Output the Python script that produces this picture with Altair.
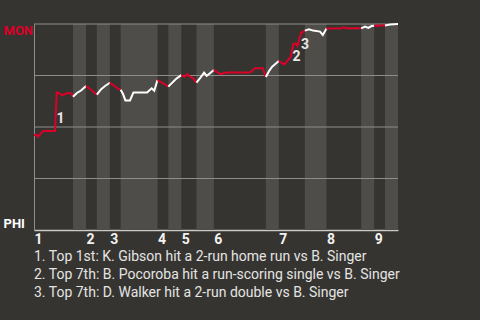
import altair as alt
import pandas as pd

# ---- data ----
inning_start = [0, 24, 35, 57, 68, 83, 113, 135, 157]
inning_label = ["1", "2", "3", "4", "5", "6", "7", "8", "9"]
bot_start = [18, 29, 40, 62, 75, 107, 125, 151, 162]
bot_end = [24, 35, 57, 68, 83, 113, 135, 157, 168]

progress = [0, 1.4, 1.8, 4.2, 9.7, 10.5, 11.1, 13.1, 15.1, 17.2, 18,
            19.8, 21.7, 24,
            26.8, 29,
            31, 32.8, 35,
            37.4, 38.8, 40,
            41.1, 42.2, 44.3, 45.9, 52.2, 54.3, 55.5, 57,
            59.8, 62,
            63.7, 65.5, 68,
            69.5, 70.8, 72, 73.5, 75,
            76.9, 78.5, 79.7, 81.2, 83,
            84.3, 86.2, 87.4, 88.9, 99.7, 102, 105.6, 107,
            108.5, 109.8, 113,
            115.5, 118.5, 119.7, 120.9, 121.6, 123.2, 125,
            126.9, 128.8, 132, 133.3, 135,
            142, 142.8, 144.3, 151,
            152.8, 154.3, 155.8, 157,
            162,
            164.3, 168]
mon_wp = [0.461, 0.461, 0.453, 0.481, 0.481, 0.667, 0.667, 0.654, 0.664, 0.664, 0.647,
          0.665, 0.677, 0.699,
          0.677, 0.657,
          0.684, 0.699, 0.715,
          0.697, 0.686, 0.681,
          0.660, 0.629, 0.629, 0.668, 0.668, 0.688, 0.676, 0.728,
          0.711, 0.696,
          0.714, 0.733, 0.752,
          0.744, 0.757, 0.744, 0.736, 0.715,
          0.741, 0.764, 0.748, 0.761, 0.777,
          0.768, 0.757, 0.761, 0.764, 0.764, 0.785, 0.785, 0.743,
          0.772, 0.791, 0.820,
          0.804, 0.840, 0.903, 0.905, 0.893, 0.956, 0.968,
          0.974, 0.968, 0.963, 0.947, 0.978,
          0.979, 0.984, 0.979, 0.979,
          0.987, 0.981, 0.990, 0.991,
          0.993,
          0.998, 1.0]

grid_values = [0.25, 0.5, 0.75, 1.0]

ann_x = [12.2, 121.2, 125.1]
ann_y = [0.537, 0.841, 0.898]
ann_label = ["1", "2", "3"]

footnotes = [
    "1. Top 1st: K. Gibson hit a 2-run home run vs B. Singer",
    "2. Top 7th: B. Pocoroba hit a run-scoring single vs B. Singer",
    "3. Top 7th: D. Walker hit a 2-run double vs B. Singer",
]

# ---- build tables ----
halves = []
for i in range(9):
    halves.append((inning_start[i], bot_start[i], "top"))
    halves.append((bot_start[i], bot_end[i], "bottom"))

rows = []
for k, (a, b, kind) in enumerate(halves):
    for x, p in zip(progress, mon_wp):
        if a - 1e-9 <= x <= b + 1e-9:
            rows.append({"x": x, "p": p, "seg": k, "kind": kind})
line_df = pd.DataFrame(rows)
bands_df = pd.DataFrame({"x": bot_start, "x2": bot_end})
grid_df = pd.DataFrame({"g": grid_values})
ann_df = pd.DataFrame({"x": ann_x, "y": ann_y, "t": ann_label})

RED = "#dc0028"
FONT = "Roboto"
BG = "#363430"

label_map = "{" + ",".join(f"'{v}':'{l}'" for v, l in zip(inning_start, inning_label)) + "}"

xscale = alt.Scale(domain=[0, 168], nice=False, zero=False)
yscale = alt.Scale(domain=[0, 1], nice=False)

xaxis = alt.Axis(values=inning_start, labelExpr=f"{label_map}[datum.value]",
                 ticks=False, tickSize=0, grid=False, labelAlign="left",
                 labelFont=FONT, labelFontSize=14, labelFontWeight="bold",
                 labelColor="#f2f2f2", labelPadding=2, labelOverlap=False,
                 domainColor="#c8c8c8", domainWidth=1.5, title=None)
yaxis = alt.Axis(values=[0, 1], labelExpr="datum.value == 1 ? 'MON' : 'PHI'",
                 ticks=False, tickSize=0, grid=False, labelAlign="left",
                 labelPadding=31, labelFont=FONT, labelFontSize=13,
                 labelFontWeight="bold",
                 labelColor={"condition": {"test": "datum.value == 1", "value": RED}, "value": "#ffffff"},
                 labelBaseline={"condition": {"test": "datum.value == 1", "value": "top"}, "value": "bottom"},
                 domainColor="#8f8d89", title=None, labelOverlap=False)

bands = alt.Chart(bands_df).mark_rect(color="#4e4d4a").encode(
    x=alt.X("x:Q", scale=xscale, axis=xaxis),
    x2="x2:Q",
    y=alt.datum(0, scale=yscale, axis=yaxis),
    y2=alt.datum(1),
)

grid = alt.Chart(grid_df).mark_rule(color="#8f8d89", strokeWidth=1).encode(
    y=alt.Y("g:Q", scale=yscale, axis=yaxis),
)

line = alt.Chart(line_df).mark_line(strokeWidth=2).encode(
    x=alt.X("x:Q", scale=xscale, axis=xaxis),
    y=alt.Y("p:Q", scale=yscale, axis=yaxis),
    detail="seg:N",
    color=alt.Color("kind:N", scale=alt.Scale(domain=["top", "bottom"], range=[RED, "#ffffff"]), legend=None),
    order="x:Q",
)

ann = alt.Chart(ann_df).mark_text(font=FONT, fontSize=14, fontWeight="bold",
                                  color="#e8e8e8").encode(
    x=alt.X("x:Q", scale=xscale, axis=xaxis),
    y=alt.Y("y:Q", scale=yscale, axis=yaxis),
    text="t:N",
)

chart = alt.layer(bands, grid, line, ann).properties(
    width=364, height=206,
    autosize=alt.AutoSizeParams(type="none"),
    padding={"left": 34, "top": 24, "right": 82, "bottom": 90},
    background=BG,
    title=alt.TitleParams(text=footnotes, orient="bottom", anchor="start", frame="group",
                          font=FONT, fontSize=14, fontWeight="normal",
                          color="#e4e4e4", lineHeight=18, offset=4),
).configure_view(stroke=None)

chart.save("out.html", embed_options={"renderer": "svg", "actions": False})
